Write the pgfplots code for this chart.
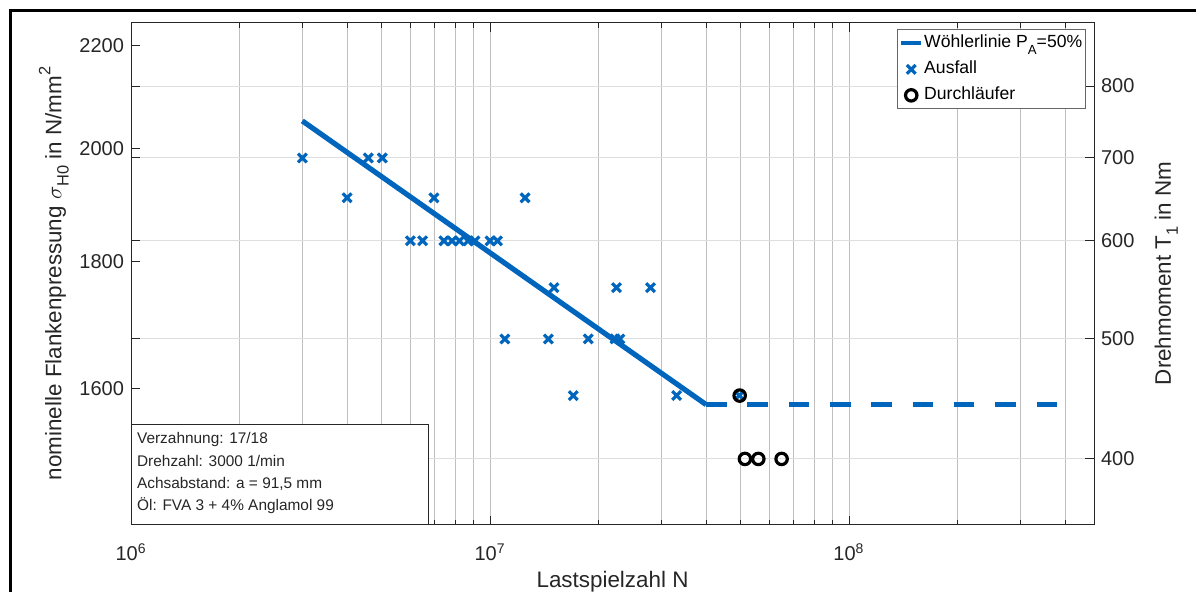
\documentclass[border=0pt]{standalone}
\usepackage{fontspec}
\setmainfont{Liberation Sans}
\usepackage{pgfplots}
\pgfplotsset{compat=1.18}
\definecolor{mblue}{RGB}{0,102,189}
\pgfplotsset{markleg/.style={legend image code/.code={\draw[##1] plot coordinates {(5pt,0pt)};}}}
\begin{document}
\begin{tikzpicture}
\useasboundingbox (0,0) rectangle (598pt,296pt);
\draw[line width=1.8pt] (5.15pt,-2pt) -- (5.15pt,290.75pt) -- (600pt,290.75pt);
\begin{axis}[
  at={(65.5pt,33.5pt)}, anchor=south west,
  scale only axis, width=481.5pt, height=251.1pt,
  xmode=log, ymode=log,
  xmin=1e6, xmax=4.814e8,
  tick align=inside,
  major tick length=4.5pt, minor tick length=2.5pt,
  axis line style={black!85, line width=0.5pt},
  every tick/.style={black!85, line width=0.5pt},
  tick label style={font=\fontsize{10}{12}\selectfont, text=black!85},
  label style={font=\fontsize{11.2}{13}\selectfont, text=black!85},
  yminorticks=false,
  ymin=1409.4, ymax=2247.6,
  xtick={1e6,1e7,1e8},
  xticklabels={10\textsuperscript{6},10\textsuperscript{7},10\textsuperscript{8}},
  minor xtick={2e6,3e6,4e6,5e6,6e6,7e6,8e6,9e6,2e7,3e7,4e7,5e7,6e7,7e7,8e7,9e7,2e8,3e8,4e8},
  ytick={1600,1800,2000,2200},
  yticklabels={1600,1800,2000,2200},
  ytick pos=left,
  xtick pos=both,
  xmajorgrids, xminorgrids,
  major grid style={black!25, line width=0.5pt},
  minor grid style={black!25, line width=0.5pt},
  xticklabel style={anchor=base, yshift=-18pt},
  xlabel={Lastspielzahl N},
  ylabel={nominelle Flankenpressung $\sigma$\raisebox{-0.6ex}{\fontsize{8.2}{8.2}\selectfont H0} in N/mm\raisebox{0.95ex}{\fontsize{8.2}{8.2}\selectfont 2}},
  xlabel style={at={(axis description cs:0.5,-0.1244)}, anchor=base},
  ylabel style={at={(axis description cs:-0.0722,0.5007)}, anchor=base},
]
\end{axis}
\begin{axis}[
  at={(65.5pt,33.5pt)}, anchor=south west,
  scale only axis, width=481.5pt, height=251.1pt,
  xmode=log, ymode=log,
  xmin=1e6, xmax=4.814e8,
  tick align=inside,
  major tick length=4.5pt, minor tick length=2.5pt,
  axis line style={black!85, line width=0.5pt},
  every tick/.style={black!85, line width=0.5pt},
  tick label style={font=\fontsize{10}{12}\selectfont, text=black!85},
  label style={font=\fontsize{11.2}{13}\selectfont, text=black!85},
  yminorticks=false,
  ymin=353.8, ymax=900,
  hide x axis,
  ytick={400,500,600,700,800},
  yticklabels={400,500,600,700,800},
  ytick pos=both,
  yticklabel pos=right,
  ymajorgrids,
  major grid style={black!13, line width=0.5pt},
  ylabel={Drehmoment T\raisebox{-0.6ex}{\fontsize{8.2}{8.2}\selectfont 1} in Nm},
  ylabel style={at={(axis description cs:1.0797,0.5007)}, anchor=base},
  legend cell align=left,
  legend style={at={(rel axis cs:0.9914,0.9869)}, anchor=north east,
    draw=black!60, line width=0.5pt, fill=white,
    font=\fontsize{8.8}{10}\selectfont,
    inner xsep=1pt, inner ysep=1.5pt, row sep=2.5pt,
    nodes={inner sep=0.5pt, text height=7pt, text depth=2.5pt}},
]
\addplot[mblue, line width=2.6pt,
  legend image code/.code={\draw[mblue, line width=2pt] (0pt,0pt) -- (10pt,0pt);}]
  coordinates {(3e6,750) (4e7,442.5)};
\addlegendentry{Wöhlerlinie P\raisebox{-0.75ex}{\fontsize{6.6}{6.6}\selectfont A}=50\%}
\addplot[mblue, line width=2.6pt, dash pattern=on 10.25pt off 10.4pt, forget plot]
  coordinates {(4e7,442.5) (4e8,442.5)};
\addplot[only marks, mark=x, mblue, mark size=3.1pt, line width=1.6pt, markleg]
  coordinates {
  (3.0e6,700) (4.58e6,700) (5.01e6,700)
  (4.0e6,650) (6.98e6,650) (1.252e7,650)
  (6.0e6,600) (6.49e6,600) (7.44e6,600) (7.84e6,600) (8.22e6,600)
  (8.68e6,600) (9.08e6,600) (1.0e7,600) (1.049e7,600)
  (1.507e7,550) (2.25e7,550) (2.80e7,550)
  (1.10e7,500) (1.454e7,500) (1.878e7,500) (2.23e7,500) (2.30e7,500)
  (1.706e7,450) (3.31e7,450) (4.95e7,450)
  };
\addlegendentry{Ausfall}
\addplot[only marks, mark=o, black, mark size=2.85pt, line width=1.6pt, markleg]
  coordinates {(4.96e7,450) (5.13e7,400) (5.59e7,400) (6.49e7,400)};
\addlegendentry{Durchläufer}
\node[draw=black!85, fill=white, line width=0.5pt, anchor=south west, inner sep=0pt,
  minimum width=148.3pt, minimum height=50pt] (tb) at (rel axis cs:0,0) {};
\node[anchor=north west, inner sep=0pt, align=left,
  font=\fontsize{7.7}{11.1}\selectfont, text=black!85]
  at ([xshift=2.85pt,yshift=-4.2pt]tb.north west)
  {Verzahnung: 17/18\\Drehzahl: 3000 1/min\\Achsabstand: a = 91,5 mm\\Öl: FVA 3 + 4\% Anglamol 99};
\end{axis}
\end{tikzpicture}
\end{document}
